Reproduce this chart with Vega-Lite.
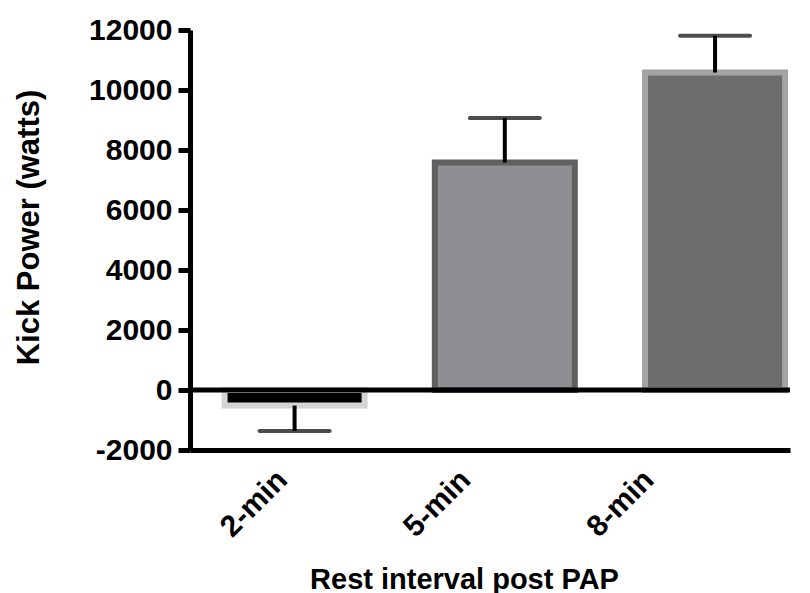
{
  "$schema": "https://vega.github.io/schema/vega-lite/v6.json",
  "autosize": {"type": "none"},
  "padding": {"left": 190, "top": 30, "right": 20, "bottom": 143},
  "width": 600,
  "height": 420,
  "background": "white",
  "config": {
    "view": {"stroke": null},
    "axis": {
      "grid": false,
      "labelFont": "Liberation Sans",
      "labelFontWeight": "bold",
      "labelFontSize": 30,
      "labelColor": "black",
      "titleFont": "Liberation Sans",
      "titleFontWeight": "bold",
      "titleFontSize": 30,
      "titleColor": "black",
      "domainColor": "black",
      "domainWidth": 5,
      "tickColor": "black",
      "tickWidth": 5
    }
  },
  "data": {
    "values": [
      {"interval": "2-min", "power": -517, "errEnd": -1367},
      {"interval": "5-min", "power": 7583, "errEnd": 9067},
      {"interval": "8-min", "power": 10583, "errEnd": 11810}
    ]
  },
  "layer": [
    {
      "mark": {"type": "bar", "strokeWidth": 6},
      "encoding": {
        "x": {
          "field": "interval",
          "type": "nominal",
          "sort": ["2-min", "5-min", "8-min"],
          "scale": {"paddingInner": 0.334, "paddingOuter": 0.094, "align": 0.875},
          "axis": {
            "title": "Rest interval post PAP",
            "titleFontSize": 29,
            "labelAngle": -45,
            "labelAlign": "right",
            "labelBaseline": "middle",
            "labelPadding": 25,
            "labelOffset": {
              "condition": [
                {"test": "datum.value === '2-min'", "value": -12},
                {"test": "datum.value === '5-min'", "value": -39}
              ],
              "value": -66
            },
            "ticks": false,
            "titleX": 274,
            "titleY": 129,
            "titleBaseline": "middle"
          }
        },
        "y": {
          "field": "power",
          "type": "quantitative",
          "scale": {"domain": [-2000, 12000], "nice": false, "zero": false},
          "axis": {
            "title": "Kick Power (watts)",
            "values": [-2000, 0, 2000, 4000, 6000, 8000, 10000, 12000],
            "labelExpr": "'' + datum.value",
            "tickSize": 12,
            "labelPadding": 6,
            "titleFontSize": 31,
            "titleX": -161,
            "titleY": 197,
            "titleBaseline": "middle"
          }
        },
        "y2": {"datum": 0},
        "fill": {
          "field": "interval",
          "type": "nominal",
          "scale": {"domain": ["2-min", "5-min", "8-min"], "range": ["#000000", "#8e8e93", "#6d6d6d"]},
          "legend": null
        },
        "stroke": {
          "field": "interval",
          "type": "nominal",
          "scale": {"domain": ["2-min", "5-min", "8-min"], "range": ["#d4d4d4", "#606060", "#a3a3a7"]},
          "legend": null
        }
      }
    },
    {
      "data": {"values": [{"zero": 0}]},
      "mark": {"type": "rule", "color": "black", "strokeWidth": 5},
      "encoding": {"y": {"field": "zero", "type": "quantitative"}}
    },
    {
      "mark": {"type": "rule", "color": "black", "strokeWidth": 4},
      "encoding": {
        "x": {"field": "interval", "type": "nominal", "sort": ["2-min", "5-min", "8-min"]},
        "y": {"field": "power", "type": "quantitative"},
        "y2": {"field": "errEnd"}
      }
    },
    {
      "mark": {"type": "tick", "color": "black", "size": 74, "thickness": 4, "cornerRadius": 2},
      "encoding": {
        "x": {"field": "interval", "type": "nominal", "sort": ["2-min", "5-min", "8-min"]},
        "y": {"field": "errEnd", "type": "quantitative"}
      }
    }
  ]
}
